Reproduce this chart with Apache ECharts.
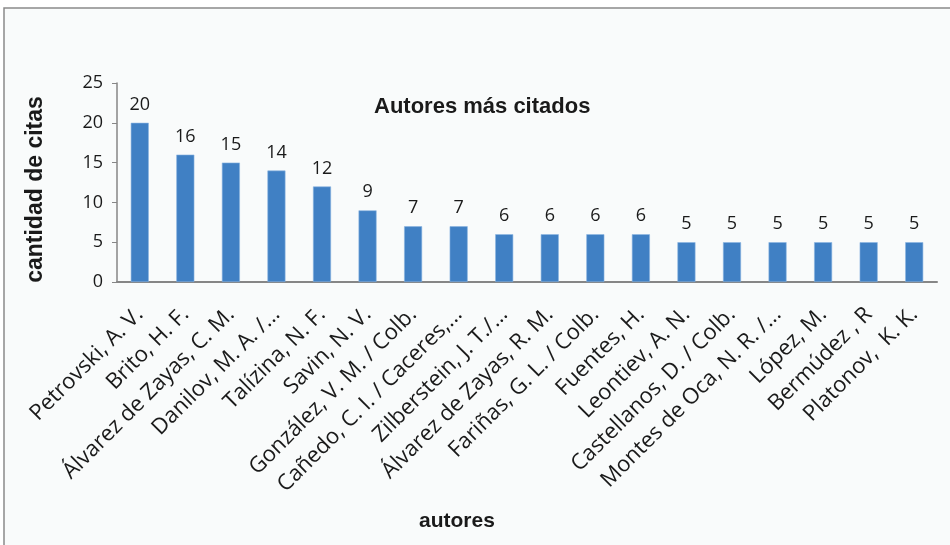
<!DOCTYPE html>
<html>
<head>
<meta charset="utf-8">
<script src="https://cdn.jsdelivr.net/npm/echarts@6/dist/echarts.min.js"></script>
<style>
  html, body { margin: 0; padding: 0; background: #fff; }
  #chart { width: 950px; height: 545px; }
</style>
</head>
<body>
<div id="chart"></div>
<script>
  // autores y cantidad de citas
  const autores = [
    'Petrovski, A. V.', 'Brito, H. F.', 'Álvarez de Zayas, C. M.', 'Danilov, M. A. /...',
    'Talízina, N. F.', 'Savin, N. V.', 'González, V. M. / Colb.', 'Cañedo, C. I. / Caceres,...',
    'Zilberstein, J. T./...', 'Álvarez de Zayas, R. M.', 'Fariñas, G. L. / Colb.', 'Fuentes, H.',
    'Leontiev, A. N.', 'Castellanos, D. / Colb.', 'Montes de Oca, N. R. /...', 'López, M.',
    'Bermúdez , R', 'Platonov,  K. K.'
  ];
  const citas = [20, 16, 15, 14, 12, 9, 7, 7, 6, 6, 6, 6, 5, 5, 5, 5, 5, 5];
  const yTicks = [0, 5, 10, 15, 20, 25];

  const txt = '#1a1a1a';
  const labelFont = '"Open Sans", "Noto Sans", sans-serif';
  const boldFont = '"Liberation Sans", Arial, sans-serif';

  const chart = echarts.init(document.getElementById('chart'));

  chart.setOption({
    backgroundColor: '#ffffff',
    animation: false,
    graphic: [{
      type: 'rect',
      z: -10,
      shape: { x: 4, y: 8, width: 960, height: 560 },
      style: { fill: '#f9fbfb', stroke: '#8a8a8a', lineWidth: 1.5 }
    }],
    title: [{
      text: 'Autores más citados',
      left: 369,
      top: 91,
      textStyle: { fontFamily: boldFont, fontSize: 22, fontWeight: 'bold', color: txt }
    }, {
      text: 'autores',
      left: 414,
      top: 506,
      textStyle: { fontFamily: boldFont, fontSize: 21, fontWeight: 'bold', color: txt }
    }],
    grid: { left: 117, right: 13, top: 83, bottom: 263 },
    xAxis: {
      type: 'category',
      data: autores,
      axisLine: { lineStyle: { color: '#868686', width: 2 } },
      axisTick: { show: false },
      axisLabel: {
        rotate: 45,
        interval: 0,
        margin: 29,
        color: txt,
        fontSize: 22,
        fontFamily: labelFont
      }
    },
    yAxis: {
      type: 'value',
      min: yTicks[0],
      max: yTicks[yTicks.length - 1],
      interval: 5,
      name: 'cantidad de citas',
      nameLocation: 'middle',
      nameGap: 70,
      nameTextStyle: {
        fontFamily: boldFont, fontSize: 23, fontWeight: 'bold', color: txt,
        padding: [0, 14, 0, 0]
      },
      splitLine: { show: false },
      axisLine: { show: true, lineStyle: { color: '#868686', width: 1.5 } },
      axisTick: { show: true, length: 5, lineStyle: { color: '#868686' } },
      axisLabel: { margin: 14, color: txt, fontSize: 18, fontFamily: labelFont }
    },
    series: [{
      type: 'bar',
      data: citas,
      barWidth: 18,
      itemStyle: { color: '#4080c4', borderColor: '#8ab4e0', borderWidth: 0.6 },
      label: {
        show: true,
        position: 'top',
        distance: 9,
        color: txt,
        fontSize: 18,
        fontFamily: labelFont
      }
    }]
  });
</script>
</body>
</html>
